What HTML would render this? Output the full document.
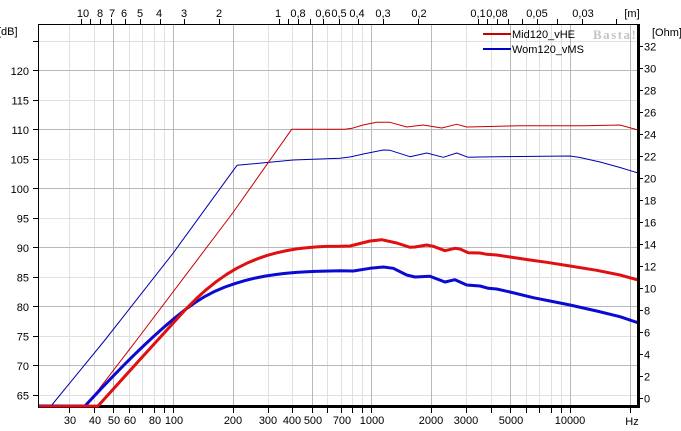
<!DOCTYPE html>
<html><head><meta charset="utf-8"><style>
html,body{margin:0;padding:0;background:#fff;}
svg{display:block;}
text{font-family:"Liberation Sans",Arial,sans-serif;font-size:11px;fill:#000;}
</style></head><body>
<svg width="681" height="431" viewBox="0 0 681 431" xmlns="http://www.w3.org/2000/svg">
<defs><clipPath id="pc"><rect x="39" y="24" width="598" height="383.5"/></clipPath></defs>
<rect width="681" height="431" fill="#fff"/>
<!-- light vertical grid -->
<g stroke="#e0e0e0" stroke-width="1">
<line x1="69.5" y1="24" x2="69.5" y2="406"/><line x1="94.5" y1="24" x2="94.5" y2="406"/>
<line x1="129.5" y1="24" x2="129.5" y2="406"/><line x1="142.5" y1="24" x2="142.5" y2="406"/>
<line x1="154.5" y1="24" x2="154.5" y2="406"/><line x1="164.5" y1="24" x2="164.5" y2="406"/>
<line x1="268.5" y1="24" x2="268.5" y2="406"/><line x1="292.5" y1="24" x2="292.5" y2="406"/>
<line x1="327.5" y1="24" x2="327.5" y2="406"/><line x1="341.5" y1="24" x2="341.5" y2="406"/>
<line x1="352.5" y1="24" x2="352.5" y2="406"/><line x1="362.5" y1="24" x2="362.5" y2="406"/>
<line x1="466.5" y1="24" x2="466.5" y2="406"/><line x1="491.5" y1="24" x2="491.5" y2="406"/>
<line x1="526.5" y1="24" x2="526.5" y2="406"/><line x1="539.5" y1="24" x2="539.5" y2="406"/>
<line x1="551.5" y1="24" x2="551.5" y2="406"/><line x1="561.5" y1="24" x2="561.5" y2="406"/>
</g>
<!-- light horizontal grid -->
<g stroke="#e0e0e0" stroke-width="1">
<line x1="39" y1="41.5" x2="637" y2="41.5"/><line x1="39" y1="100.5" x2="637" y2="100.5"/>
<line x1="39" y1="159.5" x2="637" y2="159.5"/><line x1="39" y1="218.5" x2="637" y2="218.5"/>
<line x1="39" y1="277.5" x2="637" y2="277.5"/><line x1="39" y1="336.5" x2="637" y2="336.5"/>
<line x1="39" y1="395.5" x2="637" y2="395.5"/>
</g>
<!-- dark grid -->
<g stroke="#b8b8b8" stroke-width="1">
<line x1="113.5" y1="24" x2="113.5" y2="406"/><line x1="173.5" y1="24" x2="173.5" y2="406"/>
<line x1="233.5" y1="24" x2="233.5" y2="406"/><line x1="312.5" y1="24" x2="312.5" y2="406"/>
<line x1="371.5" y1="24" x2="371.5" y2="406"/><line x1="431.5" y1="24" x2="431.5" y2="406"/>
<line x1="510.5" y1="24" x2="510.5" y2="406"/><line x1="570.5" y1="24" x2="570.5" y2="406"/>
<line x1="630.5" y1="24" x2="630.5" y2="406"/>
<line x1="39" y1="70.5" x2="637" y2="70.5"/><line x1="39" y1="129.5" x2="637" y2="129.5"/>
<line x1="39" y1="188.5" x2="637" y2="188.5"/><line x1="39" y1="247.5" x2="637" y2="247.5"/>
<line x1="39" y1="306.5" x2="637" y2="306.5"/><line x1="39" y1="365.5" x2="637" y2="365.5"/>
</g>
<!-- axes -->
<line x1="38" y1="24.5" x2="637" y2="24.5" stroke="#000" stroke-width="1"/>
<line x1="38.5" y1="24" x2="38.5" y2="408" stroke="#000" stroke-width="1"/>
<rect x="38" y="405" width="602" height="3" fill="#000"/>
<rect x="637" y="24" width="3" height="384" fill="#000"/>
<!-- curves -->
<g clip-path="url(#pc)" fill="none" stroke-linejoin="round">
<polyline stroke="#0000b0" stroke-width="1" points="39,406 51,406 105,340 173,253.3 237,165.3 293,160 340,158.3 350,157 363.3,154 383.3,150 390,150.3 410,156.7 426.7,153 443.3,157.3 456.7,153 468.3,157.3 480,157 496.7,156.7 570,156 580,157.5 600,162 620,167.5 638,173"/>
<polyline stroke="#c80000" stroke-width="1" points="39,406 86,406 136.7,340 232.7,213 291.7,129.3 345,129.3 352,128.3 363,125 376.7,122.3 390,122.3 406.7,127 423,125 441.7,128 456.7,124.3 466.7,127 500,126.3 520,125.7 570,125.7 585,125.7 620,125 638,130"/>
<polyline stroke="#0a0ad2" stroke-width="3" points="39,406 85,406 95,395.2 105,384.6 115,374.2 125,364 135,354.1 145,344.5 155,335.2 165,326.3 175,317.8 185,309.8 195,302.6 205,296.4 215,291.2 225,287 235,283.6 245,280.6 255,278.1 265,276.1 275,274.6 285,273.4 295,272.5 305,271.9 315,271.4 325,271.1 340,270.8 353.3,271 370,268.3 383.3,267 393.3,268.3 406.7,275 415,277 430,276.3 445,282 455,279.7 466.7,285 480,286 488.3,288.3 496.7,289 510,292 533.3,297.7 550,301 570,305 596.7,311 620,316.7 638,322.7"/>
<polyline stroke="#e01010" stroke-width="3" points="39,406.5 98,406 140,359.5 186.7,308.3 196.7,298.3 206.7,289.3 216.7,281.3 226.7,274.3 236.7,268.3 246.7,263.3 256.7,259.1 266.7,255.6 276.7,252.8 286.7,250.6 296.7,248.9 306.7,247.7 316.7,246.9 326.7,246.4 340,246.3 350,246 360,243.5 370,241 381.7,239.7 396.7,243 410,247.3 415,247 426.7,245 433.3,246.3 445,250.7 455,248.3 460,249 468.3,252.7 480,253 486.7,254.3 496.7,255 510,257 530,260 546.7,262.3 570,266 596.7,270.3 620,275 638,280"/>
</g>
<!-- left ticks -->
<g stroke="#000" stroke-width="1">
<line x1="33" y1="41.5" x2="38" y2="41.5"/><line x1="33" y1="70.5" x2="38" y2="70.5"/>
<line x1="33" y1="100.5" x2="38" y2="100.5"/><line x1="33" y1="129.5" x2="38" y2="129.5"/>
<line x1="33" y1="159.5" x2="38" y2="159.5"/><line x1="33" y1="188.5" x2="38" y2="188.5"/>
<line x1="33" y1="218.5" x2="38" y2="218.5"/><line x1="33" y1="247.5" x2="38" y2="247.5"/>
<line x1="33" y1="277.5" x2="38" y2="277.5"/><line x1="33" y1="306.5" x2="38" y2="306.5"/>
<line x1="33" y1="336.5" x2="38" y2="336.5"/><line x1="33" y1="365.5" x2="38" y2="365.5"/>
<line x1="33" y1="395.5" x2="38" y2="395.5"/>
</g>
<g text-anchor="end">
<text x="29" y="75">120</text><text x="29" y="104.5">115</text><text x="29" y="134">110</text>
<text x="29" y="163.5">105</text><text x="29" y="193">100</text><text x="29" y="222.5">95</text>
<text x="29" y="252">90</text><text x="29" y="281.5">85</text><text x="29" y="311">80</text>
<text x="29" y="340.5">75</text><text x="29" y="370">70</text><text x="29" y="399.5">65</text>
</g>
<text x="-2" y="35">[dB]</text>
<!-- right ticks -->
<g stroke="#000" stroke-width="1">
<line x1="640" y1="46.5" x2="643" y2="46.5"/><line x1="640" y1="68.5" x2="643" y2="68.5"/>
<line x1="640" y1="90.5" x2="643" y2="90.5"/><line x1="640" y1="112.5" x2="643" y2="112.5"/>
<line x1="640" y1="134.5" x2="643" y2="134.5"/><line x1="640" y1="156.5" x2="643" y2="156.5"/>
<line x1="640" y1="178.5" x2="643" y2="178.5"/><line x1="640" y1="200.5" x2="643" y2="200.5"/>
<line x1="640" y1="222.5" x2="643" y2="222.5"/><line x1="640" y1="244.5" x2="643" y2="244.5"/>
<line x1="640" y1="266.5" x2="643" y2="266.5"/><line x1="640" y1="288.5" x2="643" y2="288.5"/>
<line x1="640" y1="310.5" x2="643" y2="310.5"/><line x1="640" y1="332.5" x2="643" y2="332.5"/>
<line x1="640" y1="354.5" x2="643" y2="354.5"/><line x1="640" y1="376.5" x2="643" y2="376.5"/>
<line x1="640" y1="398.5" x2="643" y2="398.5"/>
</g>
<g>
<text x="644" y="50.5">32</text><text x="644" y="72.5">30</text><text x="644" y="94.5">28</text>
<text x="644" y="116.5">26</text><text x="644" y="138.5">24</text><text x="644" y="160.5">22</text>
<text x="644" y="182.5">20</text><text x="644" y="204.5">18</text><text x="644" y="226.5">16</text>
<text x="644" y="248.5">14</text><text x="644" y="270.5">12</text><text x="644" y="292.5">10</text>
<text x="644" y="314.5">8</text><text x="644" y="336.5">6</text><text x="644" y="358.5">4</text>
<text x="644" y="380.5">2</text><text x="644" y="402.5">0</text>
</g>
<text x="652" y="36">[Ohm]</text>
<!-- bottom ticks -->
<g stroke="#000" stroke-width="1">
<line x1="69.5" y1="408" x2="69.5" y2="413"/><line x1="94.5" y1="408" x2="94.5" y2="413"/>
<line x1="113.5" y1="408" x2="113.5" y2="413"/><line x1="129.5" y1="408" x2="129.5" y2="413"/>
<line x1="142.5" y1="408" x2="142.5" y2="413"/><line x1="154.5" y1="408" x2="154.5" y2="413"/>
<line x1="164.5" y1="408" x2="164.5" y2="413"/><line x1="173.5" y1="408" x2="173.5" y2="413"/>
<line x1="233.5" y1="408" x2="233.5" y2="413"/><line x1="268.5" y1="408" x2="268.5" y2="413"/>
<line x1="292.5" y1="408" x2="292.5" y2="413"/><line x1="312.5" y1="408" x2="312.5" y2="413"/>
<line x1="327.5" y1="408" x2="327.5" y2="413"/><line x1="341.5" y1="408" x2="341.5" y2="413"/>
<line x1="352.5" y1="408" x2="352.5" y2="413"/><line x1="362.5" y1="408" x2="362.5" y2="413"/>
<line x1="371.5" y1="408" x2="371.5" y2="413"/><line x1="431.5" y1="408" x2="431.5" y2="413"/>
<line x1="466.5" y1="408" x2="466.5" y2="413"/><line x1="491.5" y1="408" x2="491.5" y2="413"/>
<line x1="510.5" y1="408" x2="510.5" y2="413"/><line x1="526.5" y1="408" x2="526.5" y2="413"/>
<line x1="539.5" y1="408" x2="539.5" y2="413"/><line x1="551.5" y1="408" x2="551.5" y2="413"/>
<line x1="561.5" y1="408" x2="561.5" y2="413"/><line x1="570.5" y1="408" x2="570.5" y2="413"/>
<line x1="630.5" y1="408" x2="630.5" y2="413"/>
</g>
<g text-anchor="middle">
<text x="70" y="424">30</text><text x="95" y="424">40</text><text x="114" y="424">50</text>
<text x="130" y="424">60</text><text x="155" y="424">80</text><text x="174" y="424">100</text>
<text x="233" y="424">200</text><text x="268" y="424">300</text><text x="292" y="424">400</text>
<text x="313" y="424">500</text><text x="342" y="424">700</text><text x="372" y="424">1000</text>
<text x="431" y="424">2000</text><text x="466" y="424">3000</text><text x="511" y="424">5000</text>
<text x="570" y="424">10000</text><text x="632" y="425">Hz</text>
</g>
<!-- top ticks -->
<g stroke="#000" stroke-width="1">
<line x1="81.5" y1="19" x2="81.5" y2="24"/><line x1="90.5" y1="19" x2="90.5" y2="24"/>
<line x1="100.5" y1="19" x2="100.5" y2="24"/><line x1="111.5" y1="19" x2="111.5" y2="24"/>
<line x1="125.5" y1="19" x2="125.5" y2="24"/><line x1="140.5" y1="19" x2="140.5" y2="24"/>
<line x1="160.5" y1="19" x2="160.5" y2="24"/><line x1="184.5" y1="19" x2="184.5" y2="24"/>
<line x1="219.5" y1="19" x2="219.5" y2="24"/><line x1="279.5" y1="19" x2="279.5" y2="24"/>
<line x1="288.5" y1="19" x2="288.5" y2="24"/><line x1="298.5" y1="19" x2="298.5" y2="24"/>
<line x1="310.5" y1="19" x2="310.5" y2="24"/><line x1="323.5" y1="19" x2="323.5" y2="24"/>
<line x1="339.5" y1="19" x2="339.5" y2="24"/><line x1="358.5" y1="19" x2="358.5" y2="24"/>
<line x1="383.5" y1="19" x2="383.5" y2="24"/><line x1="418.5" y1="19" x2="418.5" y2="24"/>
<line x1="478.5" y1="19" x2="478.5" y2="24"/><line x1="487.5" y1="19" x2="487.5" y2="24"/>
<line x1="497.5" y1="19" x2="497.5" y2="24"/><line x1="508.5" y1="19" x2="508.5" y2="24"/>
<line x1="522.5" y1="19" x2="522.5" y2="24"/><line x1="537.5" y1="19" x2="537.5" y2="24"/>
<line x1="557.5" y1="19" x2="557.5" y2="24"/><line x1="582.5" y1="19" x2="582.5" y2="24"/>
<line x1="616.5" y1="19" x2="616.5" y2="24"/>
</g>
<g text-anchor="middle">
<text x="83" y="17">10</text><text x="100" y="17">8</text><text x="112" y="17">7</text>
<text x="124" y="17">6</text><text x="140" y="17">5</text><text x="159" y="17">4</text>
<text x="184" y="17">3</text><text x="219" y="17">2</text><text x="278" y="17">1</text>
<text x="298" y="17">0,8</text><text x="323" y="17">0,6</text><text x="339" y="17">0,5</text>
<text x="357" y="17">0,4</text><text x="383" y="17">0,3</text><text x="419" y="17">0,2</text>
<text x="478" y="17">0,1</text><text x="497" y="17">0,08</text><text x="537" y="17">0,05</text>
<text x="583" y="17">0,03</text><text x="632" y="17">[m]</text>
</g>
<!-- legend -->
<line x1="483" y1="34" x2="511" y2="34" stroke="#c80000" stroke-width="2"/>
<text x="512" y="38">Mid120_vHE</text>
<line x1="483" y1="49" x2="511" y2="49" stroke="#0000c8" stroke-width="2"/>
<text x="512" y="53">Wom120_vMS</text>
<text x="593" y="39" style="font-size:13px;font-weight:bold;fill:#c4c4c4;letter-spacing:1.5px;font-family:'Liberation Serif',serif;">Basta!</text>
</svg>
</body></html>
